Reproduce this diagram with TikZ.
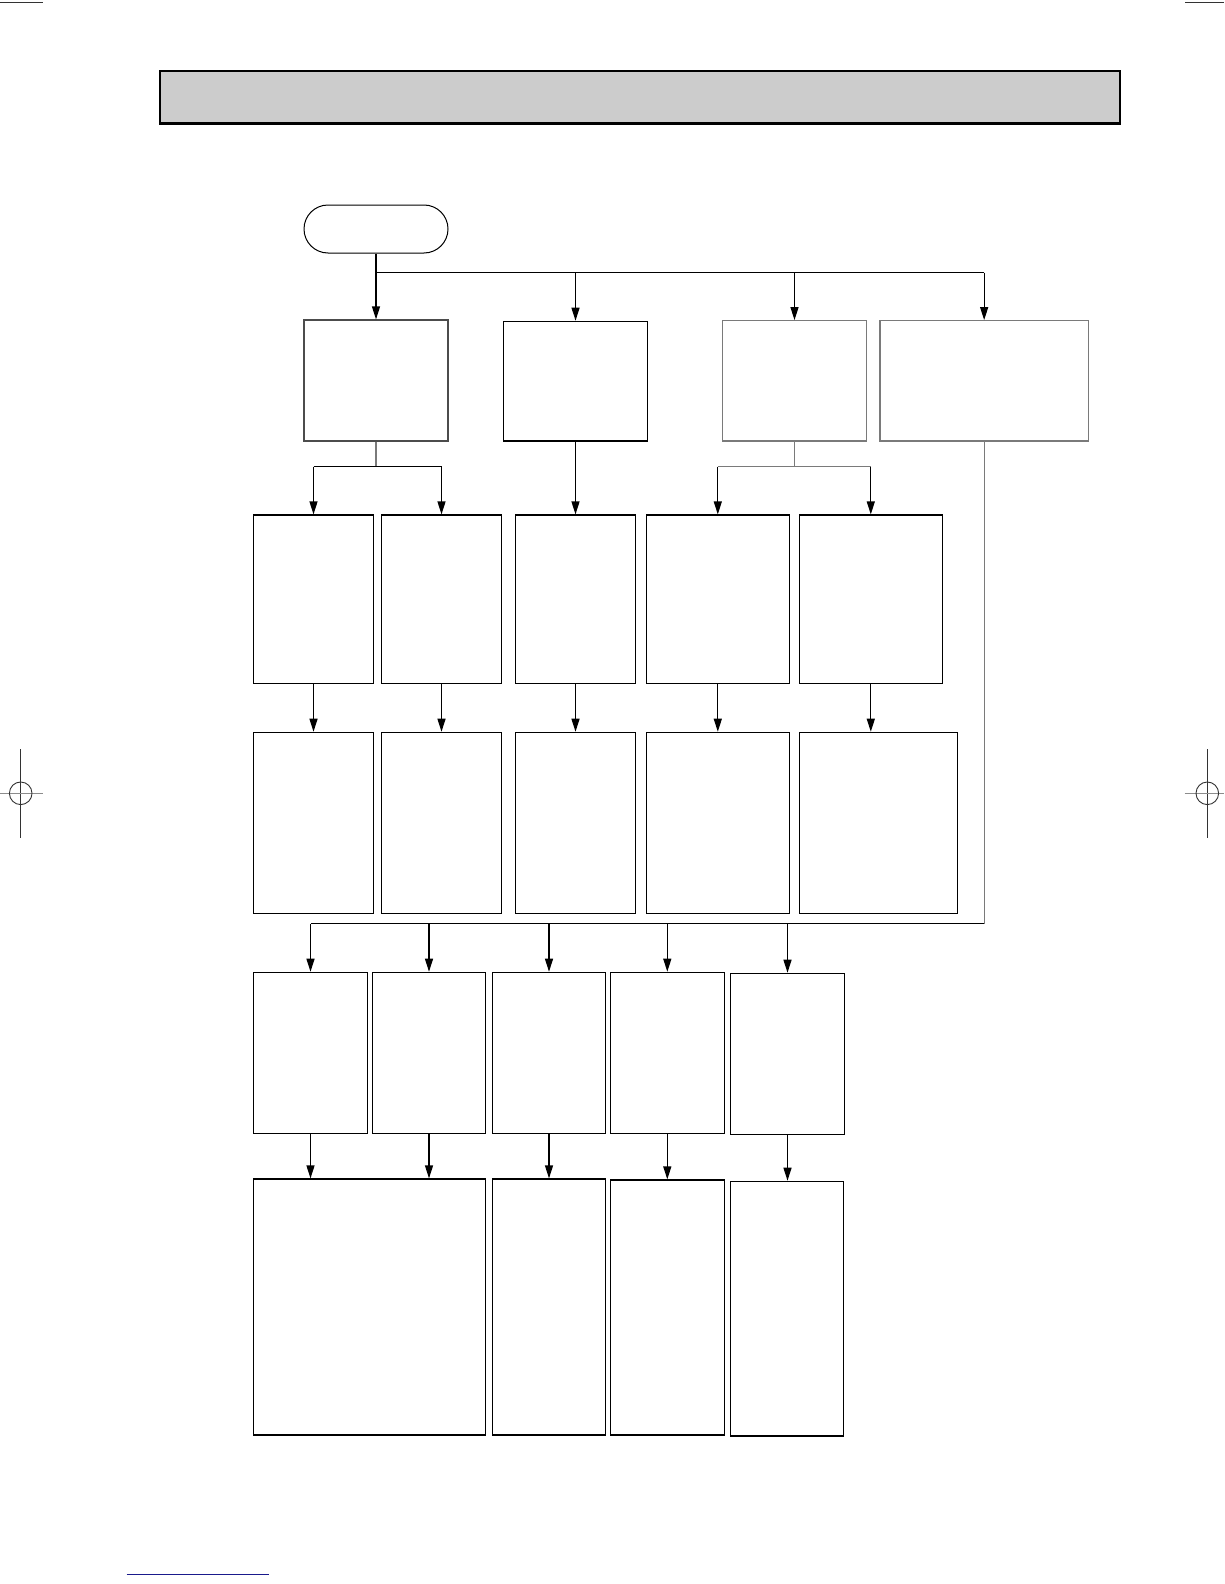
\documentclass[tikz,border=0pt]{standalone}
\usetikzlibrary{arrows.meta,fit}
\definecolor{hdrgrey}{HTML}{CCCCCC}
\definecolor{softline}{HTML}{7A7A7A}
\definecolor{navyline}{HTML}{1A1A8C}
\tikzset{
  box/.style={draw=black, line width=1.2pt, inner sep=0pt},
  greybox/.style={draw=softline, line width=1.2pt, inner sep=0pt},
  term/.style={draw=black, line width=1pt, inner sep=0pt, rounded corners=24pt},
  ln/.style={draw=black, line width=1.2pt},
  greyln/.style={draw=softline, line width=1.2pt},
  arr/.style={draw=black, line width=1.2pt, -{Triangle[length=13pt,width=8pt]}},
  cropmark/.style={draw=black!80, line width=0.9pt},
}
\begin{document}
\begin{tikzpicture}[x=1pt,y=-1pt]
\useasboundingbox (0,0) rectangle (1224,1584);
\fill[white] (0,0) rectangle (1224,1584);

% page marks
\draw[cropmark, line width=1.3pt] (0,2.3) -- (43,2.3);
\draw[cropmark, line width=1.3pt] (1185,2.3) -- (1224,2.3);
\draw[cropmark] (20.7,749) -- (20.7,838);
\draw[cropmark, draw=black!45] (0,793.3) -- (42.7,793.3);
\draw[cropmark] (20.7,793.3) circle[radius=11.3];
\draw[cropmark] (1207.3,749) -- (1207.3,838);
\draw[cropmark, draw=black!45] (1184.7,793.3) -- (1224,793.3);
\draw[cropmark] (1207.3,793.3) circle[radius=11.3];
\draw[navyline, line width=1.1pt] (126.7,1574.7) -- (269,1574.7);

% header band
\node[box, fill=hdrgrey, fit={(160,71) (1120,123)}] (hdr) {};
\draw[line width=2.4pt] (hdr.south west) -- (hdr.south east);

% start terminator
\node[term, fit={(304,205) (448,253)}] (start) {};

% row 1
\node[box, draw=black!70, fit={(304,320) (448,441)}] (b11) {};
\node[box, fit={(503.3,321.3) (647.7,441)}] (b12) {};
\node[greybox, fit={(722.3,320.7) (866.7,441)}] (b13) {};
\node[greybox, fit={(880,320.7) (1088.3,441)}] (b14) {};

% row 2
\node[box, fit={(253.3,515) (373.7,683.3)}] (b21) {};
\node[box, fit={(381.3,515) (501.7,683.3)}] (b22) {};
\node[box, fit={(515.3,515) (635.7,683.3)}] (b23) {};
\node[box, fit={(646.3,515) (789.3,683.3)}] (b24) {};
\node[box, fit={(799.3,515) (942.3,683.3)}] (b25) {};

% row 3
\node[box, fit={(253.3,732.3) (373.7,913.3)}] (b31) {};
\node[box, fit={(381.3,732.3) (501.7,913.3)}] (b32) {};
\node[box, fit={(515.3,732.3) (635.7,913.3)}] (b33) {};
\node[box, fit={(646.3,732.3) (789.3,913.3)}] (b34) {};
\node[box, fit={(799.3,732.3) (957.7,913.3)}] (b35) {};

% row 4
\node[box, fit={(253.3,972.3) (367.7,1133.3)}] (b41) {};
\node[box, fit={(372.3,972.3) (485.7,1133.3)}] (b42) {};
\node[box, fit={(492.3,972.3) (605.7,1133.3)}] (b43) {};
\node[box, fit={(610.3,972.3) (724.3,1133.3)}] (b44) {};
\node[box, fit={(730.3,973.3) (844.7,1134.3)}] (b45) {};

% row 5
\node[box, fit={(253.3,1179) (485.7,1435)}] (b51) {};
\node[box, fit={(492.3,1179) (605.7,1435)}] (b52) {};
\node[box, fit={(610.3,1180) (724.3,1435)}] (b53) {};
\node[box, fit={(730.3,1181.3) (843.7,1436)}] (b54) {};

% start -> row 1
\draw[ln] (start.south) -- ++(0,19) coordinate (sj);
\draw[ln] (sj) -- (sj -| b14.north);
\draw[arr] (sj) -- (b11.north);
\draw[arr] (sj -| b12.north) -- (b12.north);
\draw[arr] (sj -| b13.north) -- (b13.north);
\draw[arr] (sj -| b14.north) -- (b14.north);

% b11 -> b21, b22
\draw[greyln] (b11.south) -- ++(0,25) coordinate (j1);
\draw[ln] (j1 -| b21.north) -- (j1 -| b22.north);
\draw[arr] (j1 -| b21.north) -- (b21.north);
\draw[arr] (j1 -| b22.north) -- (b22.north);

% b12 -> b23
\draw[arr] (b12.south) -- (b12.south |- b23.north);

% b13 -> b24, b25
\draw[greyln] (b13.south) -- ++(0,25) coordinate (j3);
\draw[greyln] (j3 -| b24.north) -- (j3 -| b25.north);
\draw[arr] (j3 -| b24.north) -- (b24.north);
\draw[arr] (j3 -| b25.north) -- (b25.north);

% row 2 -> row 3
\draw[arr] (b21.south) -- (b21.south |- b31.north);
\draw[arr] (b22.south) -- (b22.south |- b32.north);
\draw[arr] (b23.south) -- (b23.south |- b33.north);
\draw[arr] (b24.south) -- (b24.south |- b34.north);
\draw[arr] (b25.south) -- (b25.south |- b35.north);

% b14 -> bus -> row 4
\draw[greyln] (b14.south) -- ++(0,482) coordinate (bus);
\draw[ln] (bus) -- (bus -| b41.north);
\draw[arr] (bus -| b41.north) -- (b41.north);
\draw[arr] (bus -| b42.north) -- (b42.north);
\draw[arr] (bus -| b43.north) -- (b43.north);
\draw[arr] (bus -| b44.north) -- (b44.north);
\draw[arr] (bus -| b45.north) -- (b45.north);

% row 4 -> row 5
\draw[arr] (b41.south) -- (b41.south |- b51.north);
\draw[arr] (b42.south) -- (b42.south |- b51.north);
\draw[arr] (b43.south) -- (b43.south |- b52.north);
\draw[arr] (b44.south) -- (b44.south |- b53.north);
\draw[arr] (b45.south) -- (b45.south |- b54.north);
\end{tikzpicture}
\end{document}
